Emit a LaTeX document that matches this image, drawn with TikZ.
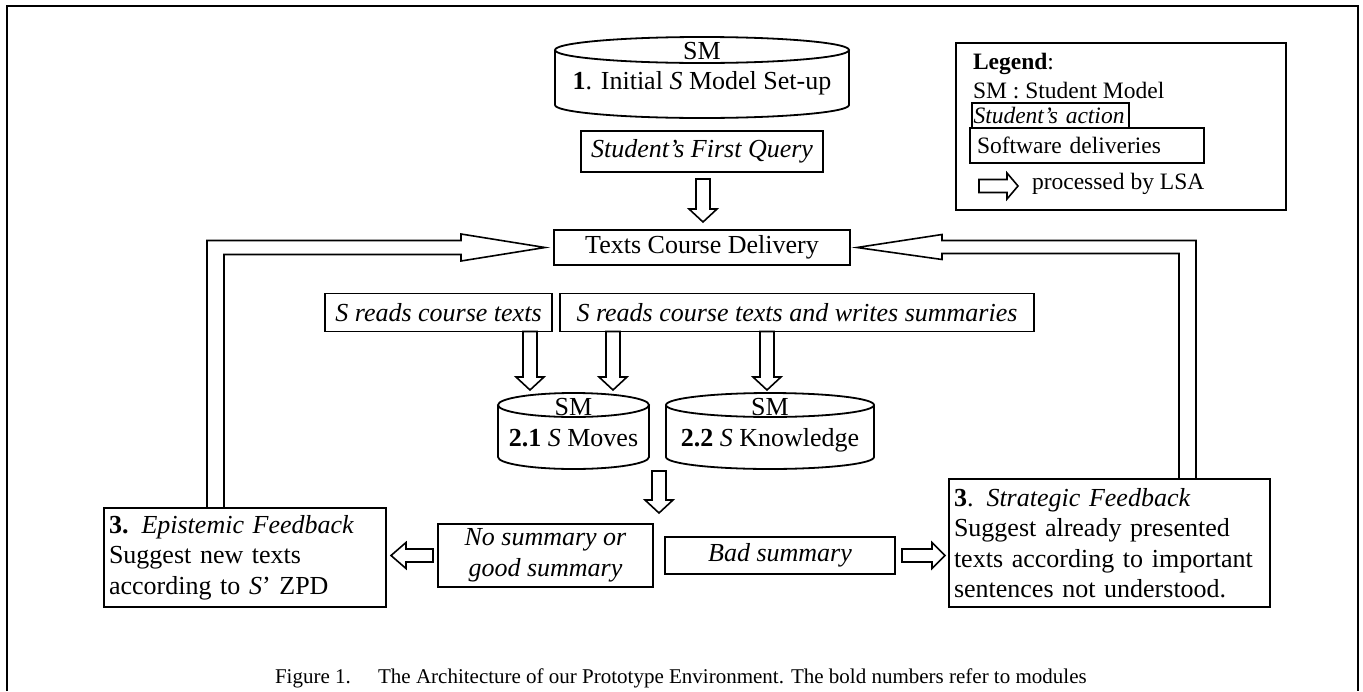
\documentclass[tikz,border=0pt]{standalone}
\usepackage{fontspec}
\setmainfont{Liberation Serif}
\usetikzlibrary{calc}
\newcommand\fA{\fontsize{26}{30.5}\selectfont}
\newcommand\fL{\fontsize{23.5}{28}\selectfont}
\tikzset{
  every node/.style={inner sep=0pt, outer sep=0pt},
  box/.style={draw, line width=1.8pt, font=\fA, align=center},
  cylline/.style={draw, line width=1.8pt},
  blk/.style={draw, line width=1.6pt, fill=white, line join=miter},
  plain/.style={font=\fA},
}
\newcommand\darrow[2]{%
  \draw[blk] let \p1=#1, \p2=#2 in
   (\x1-7pt,\y1) -- (\x1-7pt,\y2+13pt) -- (\x1-14pt,\y2+13pt) -- (\x1,\y2)
   -- (\x1+14pt,\y2+13pt) -- (\x1+7pt,\y2+13pt) -- (\x1+7pt,\y1) -- cycle;}
\newcommand\harrow[3]{%
  \draw[blk] let \p1=#1, \p2=#2, \n1={\x2-(#3)} in
   (\x1,\y1+6.5pt) -- ({\n1*1pt},\y1+6.5pt) -- ({\n1*1pt},\y1+13pt) -- (\x2,\y1)
   -- ({\n1*1pt},\y1-13pt) -- ({\n1*1pt},\y1-6.5pt) -- (\x1,\y1-6.5pt) -- cycle;}
\newcommand\cyl[2]{%
  \draw[cylline] let \p1=(#1.north west), \p2=(#1.south east),
    \n1={(\x2-\x1)/2}, \n2={#2} in
   (\x1,\y1-\n2*1pt) -- (\x1,\y2+\n2*1pt)
   arc[start angle=180, end angle=360, x radius=\n1*1pt, y radius=\n2*1pt]
   -- (\x2,\y1-\n2*1pt)
   (\x1+\n1*1pt,\y1-\n2*1pt) ellipse [x radius=\n1*1pt, y radius=\n2*1pt];}
\begin{document}
\begin{tikzpicture}[x=1pt,y=-1pt]
\useasboundingbox (0,0) rectangle (1363,691);
% frame
\draw[line width=2pt] (7,691) -- (7,6) -- (1358,6) -- (1358,691);

% top cylinder
\node[minimum width=294pt, minimum height=81pt] (c1) at (702,77.5) {};
\cyl{c1}{13}
\node[plain, anchor=base] (c1a) at (702,59) {SM};
\node[plain, anchor=base] (c1b) at (702,89) {\textbf{1}. Initial \textit{S} Model Set-up};

% student first query & texts course delivery
\node[box, minimum width=242pt, minimum height=41pt] (sfq) at (702,151.5) {\textit{Student’s First Query}};
\node[box, minimum width=296pt, minimum height=35pt] (tcd) at (702,247.5) {Texts Course Delivery};
\darrow{($(sfq.south)+(1,7)$)}{($(tcd.north)+(0,-8)$)}

% reads boxes
\node[box, minimum width=227pt, minimum height=38pt] (sr1) at (438.5,312.5) {\textit{S reads course texts}};
\node[box, minimum width=474pt, minimum height=38pt] (sr2) at (797,312.5) {\textit{S reads course texts and writes summaries}};

% cylinders 2.1 and 2.2
\node[minimum width=151pt, minimum height=76pt] (c21) at (573.5,431) {};
\cyl{c21}{12}
\node[plain, anchor=base] (c21a) at (573.5,415) {SM};
\node[plain, anchor=base] (c21b) at (573.5,446) {\textbf{2.1} \textit{S} Moves};
\node[minimum width=208pt, minimum height=76pt] (c22) at (770,431) {};
\cyl{c22}{12}
\node[plain, anchor=base] (c22a) at (770,415) {SM};
\node[plain, anchor=base] (c22b) at (770,446) {\textbf{2.2} \textit{S} Knowledge};

\darrow{($(sr1.south)+(91.5,0)$)}{($(c21.north)+(0,-3)$)}
\darrow{($(sr2.south)+(-184,0)$)}{($(c21.north)+(0,-3)$)}
\darrow{($(sr2.south)+(-30,0)$)}{($(c22.north)+(0,-3)$)}

% bottom row
\node[box, anchor=north west, minimum width=282pt, minimum height=99pt, text width=272pt, inner xsep=5pt, align=left] (epi) at (104,508)
  {\textbf{3.} \textit{Epistemic Feedback}\\Suggest new texts\\according to \textit{S}’ ZPD};
\node[box, minimum width=215pt, minimum height=63pt] (nsb) at (545.5,555.5) {\textit{No summary or}\\\textit{good summary}};
\node[box, minimum width=230pt, minimum height=37pt] (bad) at (780,555.5) {\textit{Bad summary}};
\node[box, anchor=north west, minimum width=321pt, minimum height=128pt, text width=311pt, inner xsep=5pt, align=left] (str) at (949,479)
  {\textbf{3}. \textit{Strategic Feedback}\\Suggest already presented\\texts according to important\\sentences not understood.};

\darrow{($(c21.south east)+(10,2)$)}{($(nsb.north)+(0,-11)$)}
\harrow{($(nsb.west)+(-5,0)$)}{($(epi.east)+(5,0)$)}{-15pt}
\harrow{($(bad.east)+(7,0)$)}{($(str.west)+(-4,0)$)}{13pt}

% feedback loops
\draw[blk, fill=none] let \p1=(epi.north), \p2=(tcd.west) in
  (207pt,\y1) -- (207pt,\y2+7pt) -- (461pt,\y2+7pt) -- (461pt,\y2+13.5pt) -- (\x2-9pt,\y2)
  -- (461pt,\y2-13.5pt) -- (461pt,\y2-7pt) -- (224pt,\y2-7pt) -- (224pt,\y1);
\draw[blk, fill=none] let \p1=(str.north), \p2=(tcd.east) in
  (1196pt,\y1) -- (1196pt,\y2+7pt) -- (942pt,\y2+7pt) -- (942pt,\y2+13pt) -- (\x2+7pt,\y2)
  -- (942pt,\y2-12pt) -- (942pt,\y2-6pt) -- (1179pt,\y2-6pt) -- (1179pt,\y1);

% legend
\node[draw, line width=2.6pt, minimum width=330pt, minimum height=167pt] (leg) at (1121,126.5) {};
\node[font=\fL, anchor=base west] (lg1) at (973,69) {\textbf{Legend}:};
\node[font=\fL, anchor=base west] (lg2) at (973,98) {SM : Student Model};
\node[draw, line width=1.2pt, font=\fL, anchor=north west, minimum height=25pt, inner xsep=1.5pt, text width=154pt, align=left] (lg3) at (972,103) {\textit{Student’s action}};
\node[draw, line width=1.6pt, font=\fL, anchor=north west, minimum height=35pt, inner xsep=7pt, text width=220pt, align=left] (lg4) at (970,128) {Software deliveries};
\node[font=\fL, anchor=base west] (lg5) at (1032,189) {processed by LSA};
\coordinate (lgt) at ($(lg5.base west)+(-53,-3)$);
\harrow{(lgt)}{($(lg5.base west)+(-14,-3)$)}{11pt}

% caption
\node[font=\fontsize{21}{25}\selectfont, anchor=base west] (cap) at (275,683)
  {Figure 1.\hspace{1.3em}The Architecture of our Prototype Environment. The bold numbers refer to modules};
\end{tikzpicture}
\end{document}
